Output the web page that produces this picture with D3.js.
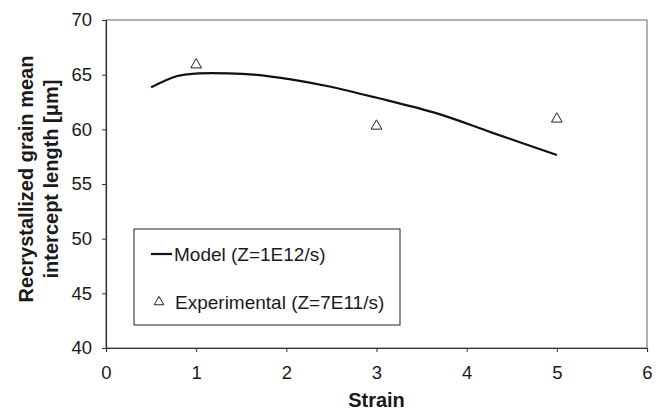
<!DOCTYPE html>
<html>
<head>
<meta charset="utf-8">
<script src="https://cdn.jsdelivr.net/npm/d3@7"></script>
<style>
  body { margin: 0; background: #fff; }
  text { font-family: "Liberation Sans", Arial, sans-serif; fill: #1a1a1a; }
</style>
</head>
<body>
<script>
var W = 662, H = 411;
var margin = {top: 20, right: 15, bottom: 63, left: 106};

// model curve (strain, grain size)
var modelStrain = [0.5, 0.63, 0.79, 0.99, 1.36, 1.64, 2.05, 2.45, 2.98, 3.67, 4.28, 5.0];
var modelSize   = [63.84, 64.36, 64.88, 65.1, 65.12, 65.0, 64.57, 63.96, 62.93, 61.46, 59.7, 57.65];
// experimental points
var expStrain = [1, 3, 5];
var expSize   = [65.9, 60.3, 60.95];

var xTicks = [0, 1, 2, 3, 4, 5, 6];
var yTicks = [40, 45, 50, 55, 60, 65, 70];

var svg = d3.select("body").append("svg")
  .attr("width", W).attr("height", H);

var x = d3.scaleLinear().domain([0, 6]).range([margin.left, W - margin.right]);
var y = d3.scaleLinear().domain([40, 70]).range([H - margin.bottom, margin.top]);

// frame
svg.append("rect")
  .attr("x", x(0)).attr("y", y(70))
  .attr("width", x(6) - x(0)).attr("height", y(40) - y(70))
  .attr("fill", "none").attr("stroke", "#666").attr("stroke-width", 1);

var xAxis = svg.append("g")
  .attr("transform", "translate(0," + y(40) + ")")
  .call(d3.axisBottom(x).tickValues(xTicks).tickSize(4).tickPadding(14).tickFormat(d3.format("d")));
var yAxis = svg.append("g")
  .attr("transform", "translate(" + x(0) + ",0)")
  .call(d3.axisLeft(y).tickValues(yTicks).tickSize(4).tickPadding(10).tickFormat(d3.format("d")));

[xAxis, yAxis].forEach(function(g) {
  g.select(".domain").attr("stroke", "#333").attr("stroke-width", 1.2);
  g.selectAll(".tick line").attr("stroke", "#333");
  g.selectAll(".tick text").attr("font-size", 18.5).attr("fill", "#1a1a1a")
    .attr("font-family", "Liberation Sans, Arial, sans-serif");
});

// axis titles
svg.append("text")
  .attr("x", x(3)).attr("y", 407)
  .attr("text-anchor", "middle")
  .attr("font-size", 20).attr("font-weight", "bold")
  .text("Strain");

var yt = svg.append("text")
  .attr("transform", "translate(0,179) rotate(-90)")
  .attr("text-anchor", "middle")
  .attr("font-size", 20).attr("font-weight", "bold");
yt.append("tspan").attr("x", 0).attr("y", 33).text("Recrystallized grain mean");
yt.append("tspan").attr("x", 0).attr("y", 58).text("intercept length [\u03bcm]");

// model line
var modelData = modelStrain.map(function(s, i) { return [s, modelSize[i]]; });
svg.append("path")
  .datum(modelData)
  .attr("fill", "none").attr("stroke", "#111").attr("stroke-width", 2.2)
  .attr("d", d3.line().x(function(d) { return x(d[0]); }).y(function(d) { return y(d[1]); })
    .curve(d3.curveCatmullRom));

// experimental triangles
var tri = d3.symbol().type(d3.symbolTriangle).size(50);
svg.selectAll(".exp")
  .data(expStrain.map(function(s, i) { return [s, expSize[i]]; }))
  .enter().append("path")
  .attr("class", "exp")
  .attr("transform", function(d) { return "translate(" + x(d[0]) + "," + y(d[1]) + ")"; })
  .attr("d", tri)
  .attr("fill", "none").attr("stroke", "#222").attr("stroke-width", 1);

// legend
var lg = svg.append("g");
lg.append("rect")
  .attr("x", 134).attr("y", 229).attr("width", 266).attr("height", 96)
  .attr("fill", "#fff").attr("stroke", "#222").attr("stroke-width", 1);
lg.append("line")
  .attr("x1", 151).attr("x2", 172).attr("y1", 254).attr("y2", 254)
  .attr("stroke", "#111").attr("stroke-width", 2.2);
lg.append("text").attr("x", 174).attr("y", 261).attr("font-size", 19).text("Model (Z=1E12/s)");
lg.append("path")
  .attr("transform", "translate(159,302)")
  .attr("d", d3.symbol().type(d3.symbolTriangle).size(40))
  .attr("fill", "none").attr("stroke", "#222").attr("stroke-width", 1);
lg.append("text").attr("x", 175).attr("y", 309).attr("font-size", 19).text("Experimental (Z=7E11/s)");
</script>
</body>
</html>
